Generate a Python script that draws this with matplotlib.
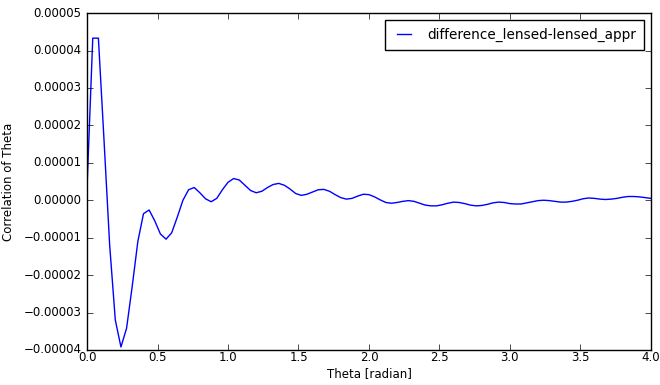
import matplotlib
matplotlib.use("Agg")
import matplotlib.pyplot as plt
import numpy as np

# theta sampled every 0.04 rad from 0 to 4
theta = np.arange(101) * 0.04

# correlation difference, in units of 1e-5
diff_e5 = [
    0.4, 4.33, 4.33, 1.6, -1.2, -3.2, -3.92, -3.42, -2.3, -1.1,
    -0.36, -0.26, -0.55, -0.9, -1.04, -0.87, -0.45, 0.0, 0.28, 0.34,
    0.2, 0.04, -0.04, 0.05, 0.28, 0.48, 0.58, 0.54, 0.4, 0.26,
    0.2, 0.24, 0.34, 0.42, 0.45, 0.4, 0.3, 0.18, 0.13, 0.16,
    0.22, 0.28, 0.29, 0.24, 0.15, 0.07, 0.03, 0.05, 0.11, 0.16,
    0.15, 0.09, 0.01, -0.06, -0.08, -0.06, -0.03, -0.01, -0.03, -0.08,
    -0.13, -0.15, -0.15, -0.12, -0.08, -0.05, -0.06, -0.09, -0.13, -0.15,
    -0.14, -0.11, -0.07, -0.05, -0.06, -0.09, -0.1, -0.1, -0.07, -0.04,
    -0.01, 0.0, -0.01, -0.03, -0.05, -0.05, -0.03, 0.0, 0.04, 0.06,
    0.05, 0.03, 0.02, 0.03, 0.05, 0.08, 0.1, 0.1, 0.09, 0.07,
    0.05,
]
diff = np.array(diff_e5) * 1e-5

plt.style.use("classic")
plt.rcParams["font.size"] = 8.5

fig = plt.figure(figsize=(6.6, 3.85), dpi=100, facecolor="white")
ax = fig.add_axes([0.132, 0.091, 0.854, 0.875])
ax.plot(theta, diff, color="b", linewidth=1, label="difference_lensed-lensed_appr")
ax.set_xlim(0, 4)
ax.set_ylim(-0.00004, 0.00005)
ax.set_xticks(np.arange(0, 4.01, 0.5))
yt = np.arange(-4, 5.01, 1) * 1e-5
ax.set_yticks(yt)
ax.set_yticklabels([f"{v:.5f}".replace("-", "\u2212") for v in yt])
ax.tick_params(axis="x", pad=1)
ax.tick_params(axis="y", pad=4)
ax.set_xlabel("Theta [radian]", fontsize=8.5, labelpad=2)
ax.set_ylabel("Correlation of Theta", fontsize=8.5, labelpad=6)
ax.legend(loc="upper right", fontsize=9.8, handlelength=1.6,
          handletextpad=0.9, borderpad=0.6, borderaxespad=0.5)

fig.savefig("out.png", dpi=100, facecolor="white")
